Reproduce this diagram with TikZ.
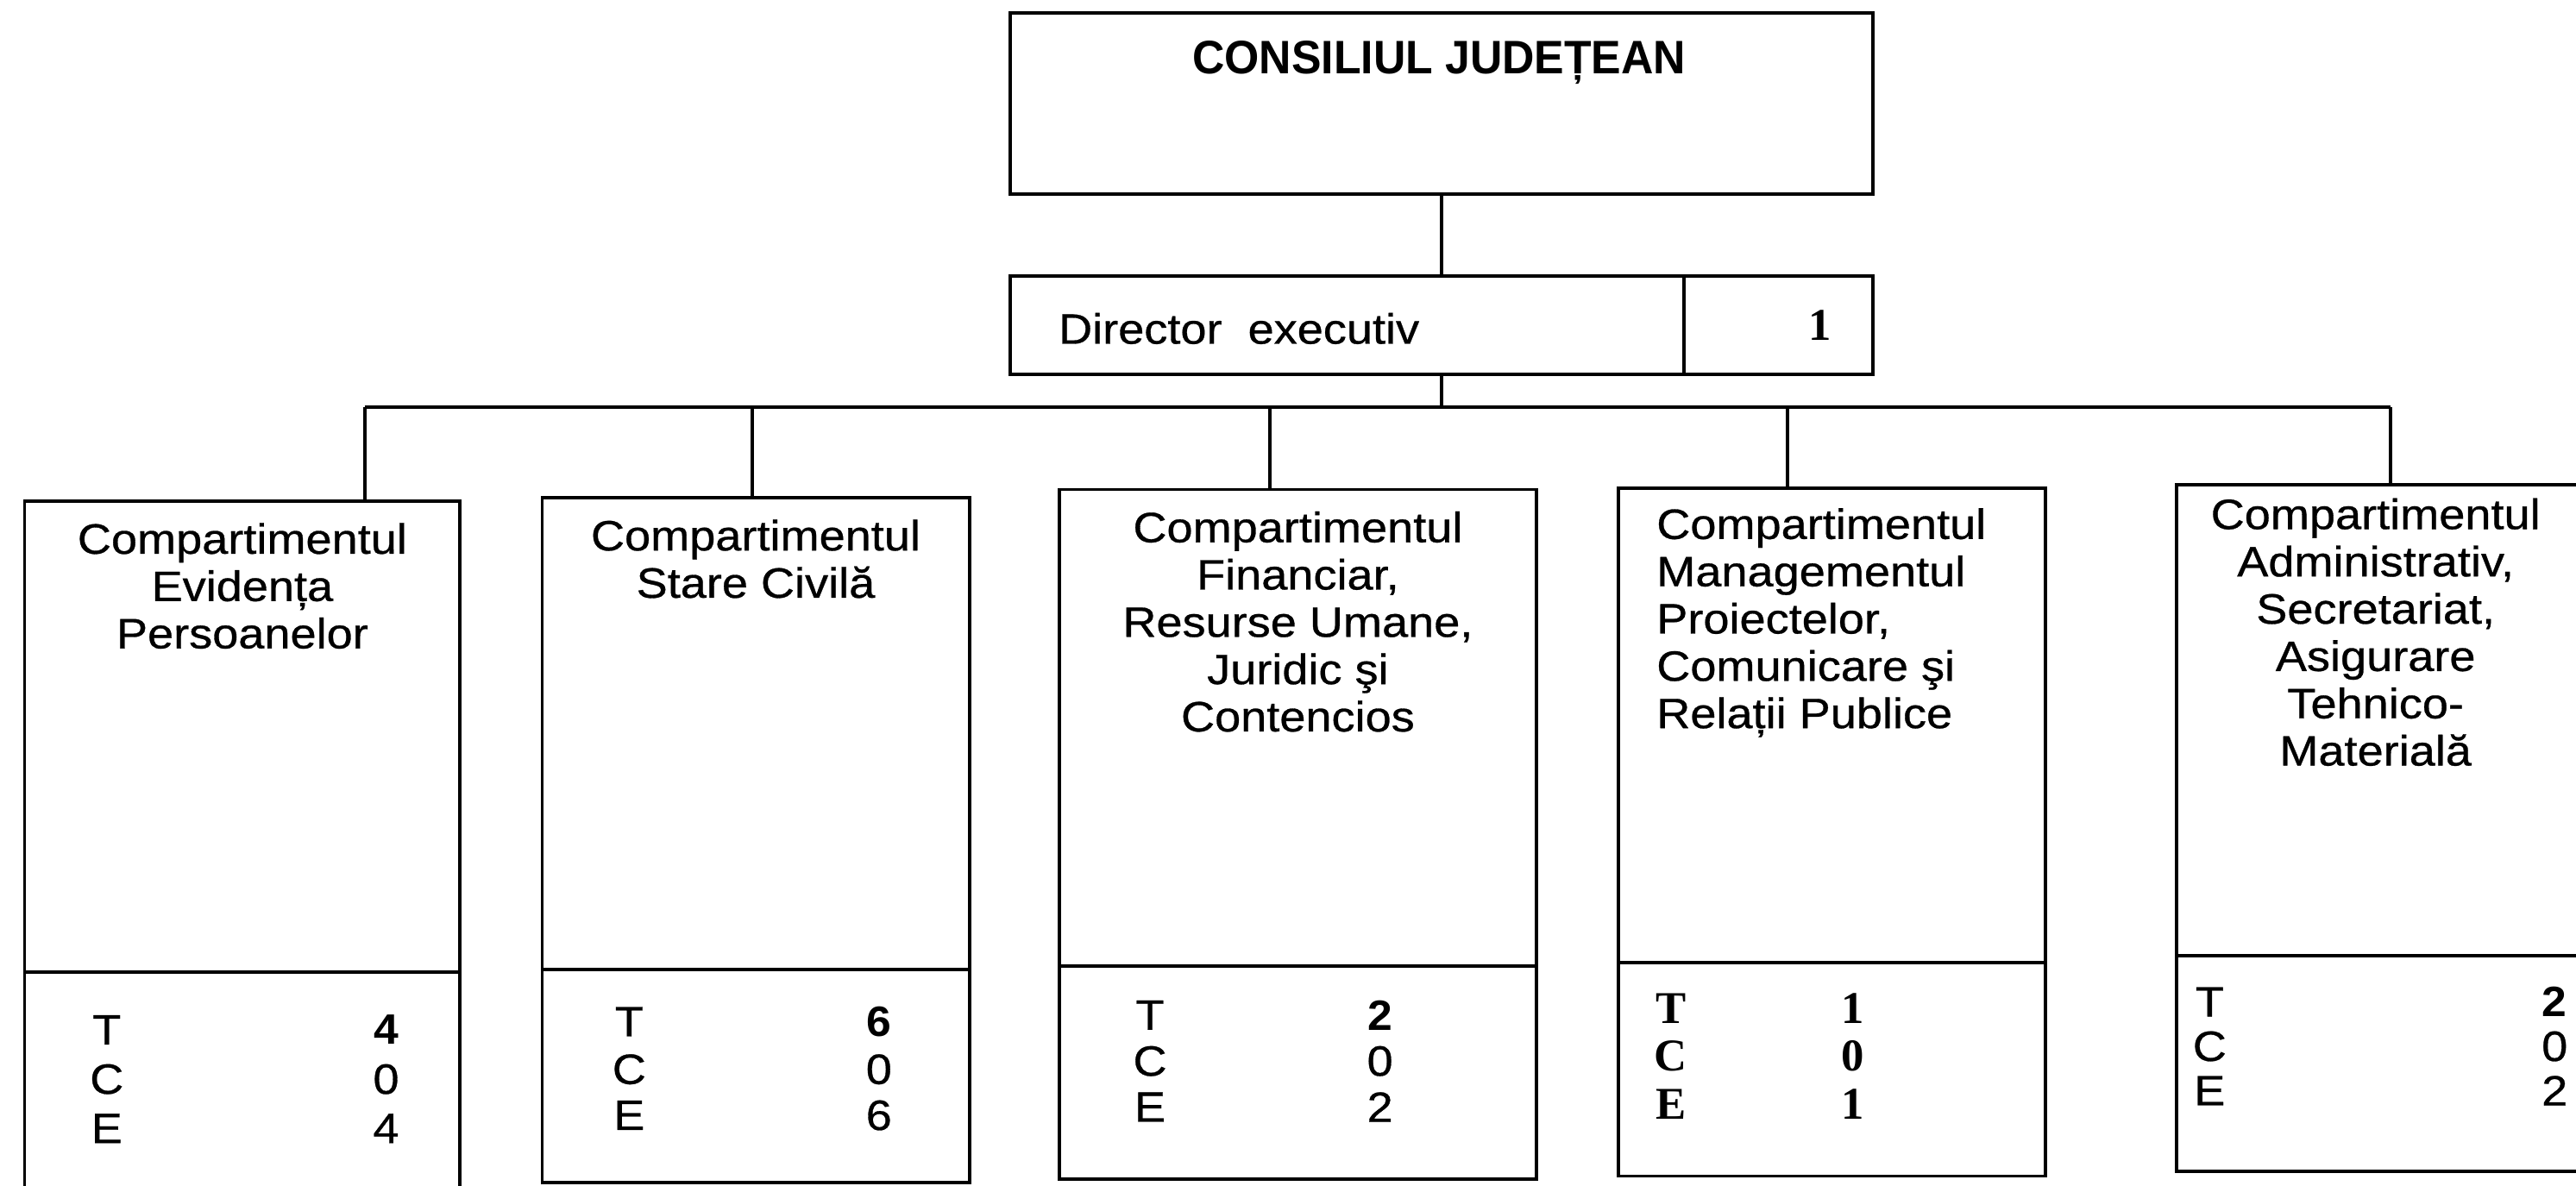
\documentclass[tikz,border=0pt]{standalone}
\usepackage{fontspec}
\setmainfont{Liberation Sans}
\newfontfamily\ssf{Liberation Sans}[FakeStretch=1.1,FakeBold=0.6]
\newfontfamily\ssfb{Liberation Sans Bold}[FakeStretch=0.95]
\newfontfamily\ssfbb{Liberation Sans Bold}[FakeStretch=1.05]
\newfontfamily\serfb{Liberation Serif Bold}
\begin{document}
\begin{tikzpicture}[x=0.01904cm,y=-0.01904cm,
  boxst/.style={draw=black, line width=1.1pt, inner sep=0pt, outer sep=0pt},
  txt/.style={inner sep=0pt, align=center, font=\ssf\fontsize{14}{15.6}\selectfont},
  txtl/.style={inner sep=0pt, align=left, font=\ssf\fontsize{14}{15.6}\selectfont},
  lab/.style={inner sep=0pt, font=\ssf\fontsize{14}{15}\selectfont},
  labb/.style={inner sep=0pt, font=\ssfbb\fontsize{14}{15}\selectfont},
  labsb/.style={inner sep=0pt, font=\serfb\fontsize{15}{15}\selectfont},
  conn/.style={draw=black, line width=1.1pt}]
\useasboundingbox (0,0) rectangle (1568,722);
% top
\node[boxst, anchor=north west, minimum width={525*0.01904cm}, minimum height={110*0.01904cm}] (council) at (615,8) {};
\node[inner sep=0pt, font=\ssfb\fontsize{15.5}{15.5}\selectfont] (counciltxt) at (876,38) {CONSILIUL JUDEȚEAN};
% director
\node[boxst, anchor=north west, minimum width={525*0.01904cm}, minimum height={60*0.01904cm}] (dir) at (615,168) {};
\node[boxst, anchor=north west, minimum width={115*0.01904cm}, minimum height={60*0.01904cm}] (dirnum) at (1025,168) {};
\node[lab, anchor=west] (dirtxt) at (644,200) {Director\ \ executiv};
\node[labsb] (dirn) at (1108,198) {1};
% departments: upper and lower parts
\newcommand\deptbox[6]{%
  \node[boxst, anchor=north west, minimum width={(#3-#2)*0.01904cm}, minimum height={(#5-#4)*0.01904cm}] (#1u) at (#2,#4) {};
  \node[boxst, anchor=north west, minimum width={(#3-#2)*0.01904cm}, minimum height={(#6-#5)*0.01904cm}] (#1l) at (#2,#5) {};}
\deptbox{a}{15}{280}{305}{592}{726}
\deptbox{b}{330}{590}{303}{590}{720}
\deptbox{c}{645}{935}{298}{588}{718}
\deptbox{d}{985}{1245}{297}{586}{716}
\deptbox{e}{1325}{1569}{295}{582}{713}
% texts
\node[txt, anchor=north] (at) at (147.5,318) {Compartimentul\\Evidența\\Persoanelor};
\node[txt, anchor=north] (bt) at (460,316) {Compartimentul\\Stare Civilă};
\node[txt, anchor=north] (ct) at (790,311) {Compartimentul\\Financiar,\\Resurse Umane,\\Juridic şi\\Contencios};
\node[txtl, anchor=north west] (dt) at (1008,309) {Compartimentul\\Managementul\\Proiectelor,\\Comunicare şi\\Relații Publice};
\node[txt, anchor=north] (et) at (1446,303) {Compartimentul\\Administrativ,\\Secretariat,\\Asigurare\\Tehnico-\\Materială};
% counts
\node[lab] (aT) at (65,627) {T};
\node[lab] (aC) at (65,657) {C};
\node[lab] (aE) at (65,687) {E};
\node[labb] (aTn) at (235,627) {4};
\node[lab] (aCn) at (235,657) {0};
\node[lab] (aEn) at (235,687) {4};
\node[lab] (bT) at (383,622) {T};
\node[lab] (bC) at (383,651) {C};
\node[lab] (bE) at (383,679) {E};
\node[labb] (bTn) at (535,622) {6};
\node[lab] (bCn) at (535,651) {0};
\node[lab] (bEn) at (535,679) {6};
\node[lab] (cT) at (700,618) {T};
\node[lab] (cC) at (700,646) {C};
\node[lab] (cE) at (700,674) {E};
\node[labb] (cTn) at (840,618) {2};
\node[lab] (cCn) at (840,646) {0};
\node[lab] (cEn) at (840,674) {2};
\node[labsb] (dT) at (1017,614) {T};
\node[labsb] (dC) at (1017,643) {C};
\node[labsb] (dE) at (1017,672) {E};
\node[labsb] (dTn) at (1128,614) {1};
\node[labsb] (dCn) at (1128,643) {0};
\node[labsb] (dEn) at (1128,672) {1};
\node[lab] (eT) at (1345,610) {T};
\node[lab] (eC) at (1345,637) {C};
\node[lab] (eE) at (1345,664) {E};
\node[labb] (eTn) at (1555,610) {2};
\node[lab] (eCn) at (1555,637) {0};
\node[lab] (eEn) at (1555,664) {2};
% connectors
\coordinate (bus) at (877.5,248);
\coordinate (d1) at (222,248);
\coordinate (d2) at (458,248);
\coordinate (d3) at (773,248);
\coordinate (d4) at (1088,248);
\coordinate (d5) at (1455,248);
\draw[conn] (council.south) -- (dir.north);
\draw[conn] (dir.south) -- (bus);
\draw[conn] (d1) -- (d5);
\draw[conn] (d1) -- (d1 |- au.north);
\draw[conn] (d2) -- (d2 |- bu.north);
\draw[conn] (d3) -- (d3 |- cu.north);
\draw[conn] (d4) -- (d4 |- du.north);
\draw[conn] (d5) -- (d5 |- eu.north);
\end{tikzpicture}
\end{document}
